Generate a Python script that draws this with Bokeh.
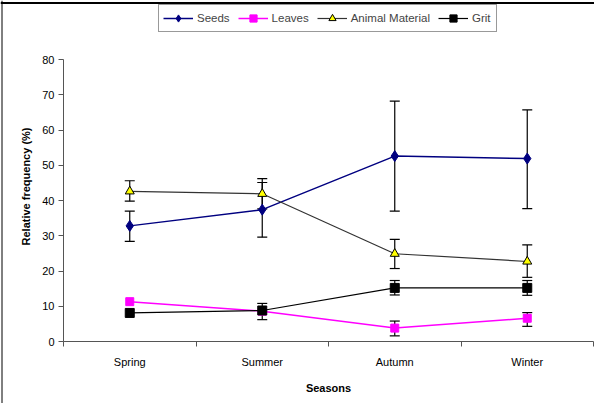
from bokeh.plotting import figure
from bokeh.models import (ColumnDataSource, Whisker, TeeHead, Legend, LegendItem,
                          FixedTicker, Range1d, Span, LinearAxis)
from bokeh.embed import file_html
from bokeh.resources import INLINE

seasons = ["Spring", "Summer", "Autumn", "Winter"]

seeds = [32.8, 37.4, 52.6, 51.9]
seeds_lo = [28.4, 29.6, 37.0, 37.7]
seeds_hi = [37.0, 45.1, 68.2, 65.7]

leaves = [11.3, 8.6, 3.8, 6.6]
leaves_err_idx = [2, 3]
leaves_lo = [1.6, 4.3]
leaves_hi = [5.8, 8.2]

animal = [42.6, 41.9, 24.9, 22.7]
animal_lo = [39.8, 37.6, 20.7, 18.2]
animal_hi = [45.6, 46.2, 29.0, 27.4]

grit = [8.1, 8.8, 15.2, 15.2]
grit_err_idx = [1, 2, 3]
grit_lo = [6.2, 13.2, 13.1]
grit_hi = [10.8, 17.3, 17.3]

y_ticks = list(range(0, 81, 10))
y_max = 80

FONT = "Liberation Sans"

# ---- layout in canvas pixels ----
W, H = 594, 403
AX_LEFT, AX_RIGHT = 63, 593      # x = 0 and x = n_seasons
AX_TOP, AX_BOTTOM = 59, 341      # y = 80 and y = 0
YLABEL_CY = 186                  # vertical centre of the y-axis title
n = len(seasons)
ppx = (AX_RIGHT - AX_LEFT) / n
ppy = (AX_BOTTOM - AX_TOP) / y_max
x_start = -AX_LEFT / ppx
x_end = n + (W - AX_RIGHT) / ppx
y_start = -(H - AX_BOTTOM) / ppy
y_end = y_max + AX_TOP / ppy
ylabel_c = (AX_BOTTOM - YLABEL_CY) / ppy

xc = [i + 0.5 for i in range(n)]

p = figure(width=W, height=H, output_backend="svg", toolbar_location=None,
           x_range=Range1d(x_start, x_end), y_range=Range1d(y_start, y_end),
           min_border=0)
p.outline_line_color = None
p.xgrid.visible = False
p.ygrid.visible = False
p.background_fill_color = "white"
p.border_fill_color = "white"

# outer chart border (top and left edges, as in the reference)
p.add_layout(Span(location=y_end - 2.5 / ppy, dimension="width",
                  line_color="#000000", line_width=2))
p.add_layout(Span(location=x_start + 1.5 / ppx, dimension="height",
                  line_color="#000000", line_width=1))

# axes
p.xaxis.fixed_location = 0
p.xaxis.bounds = (0, n)
p.xaxis.ticker = FixedTicker(ticks=xc, minor_ticks=list(range(n + 1)))
p.xaxis.major_label_overrides = {x: s for x, s in zip(xc, seasons)}
p.xaxis.minor_tick_out = 5
p.xaxis.minor_tick_in = 0
p.xaxis.minor_tick_line_color = "#555555"
p.xaxis.major_label_standoff = 8
p.xaxis.axis_label = "Seasons"
p.xaxis.axis_label_standoff = 11

p.yaxis.fixed_location = 0
p.yaxis.bounds = (0, y_max)
p.yaxis.ticker = FixedTicker(ticks=y_ticks)
p.yaxis.minor_tick_line_color = None
p.yaxis.major_tick_out = 5
p.yaxis.major_tick_in = 0
p.yaxis.major_label_standoff = 4

for ax in (p.xaxis, p.yaxis):
    ax.axis_line_color = "#555555"
    ax.major_label_text_font = FONT
    ax.major_label_text_font_size = "11px"
    ax.major_label_text_color = "#000000"
    ax.axis_label_text_font = FONT
    ax.axis_label_text_font_size = "11px"
    ax.axis_label_text_font_style = "bold"
    ax.axis_label_text_color = "#000000"
p.xaxis.major_tick_line_color = None
p.yaxis.major_tick_line_color = "#555555"

# y-axis title, centred where the reference has it
ytitle = LinearAxis(fixed_location=0, bounds=(2 * ylabel_c - y_max, y_max),
                    ticker=FixedTicker(ticks=[]), axis_line_color=None,
                    major_tick_line_color=None, minor_tick_line_color=None,
                    major_tick_out=0, minor_tick_out=0,
                    axis_label="Relative frequency (%)", axis_label_standoff=32,
                    axis_label_text_font=FONT, axis_label_text_font_size="11px",
                    axis_label_text_font_style="bold", axis_label_text_color="#000000")
p.add_layout(ytitle, "left")

# series
items = []

l1 = p.line(xc, seeds, line_color="#000080", line_width=1.5)
m1 = p.scatter(xc, seeds, marker="diamond", size=11, fill_color="#000080", line_color="#000080")
items.append(LegendItem(label="Seeds", renderers=[l1, m1]))

l2 = p.line(xc, leaves, line_color="#FF00FF", line_width=1.5)
m2 = p.scatter(xc, leaves, marker="square", size=8, fill_color="#FF00FF", line_color="#FF00FF")
items.append(LegendItem(label="Leaves", renderers=[l2, m2]))

l3 = p.line(xc, animal, line_color="#333333", line_width=1.2)
m3 = p.scatter(xc, animal, marker="triangle", size=9, fill_color="#FFFF00", line_color="#000000")
items.append(LegendItem(label="Animal Material", renderers=[l3, m3]))

l4 = p.line(xc, grit, line_color="#000000", line_width=1.2)
m4 = p.scatter(xc, grit, marker="square", size=9, fill_color="#000000", line_color="#000000")
items.append(LegendItem(label="Grit", renderers=[l4, m4]))


def add_err(xs, lo, hi):
    src = ColumnDataSource(dict(x=xs, lo=lo, hi=hi))
    w = Whisker(source=src, base="x", lower="lo", upper="hi", dimension="height",
                line_color="#000000", line_width=1.2,
                upper_head=TeeHead(size=10, line_color="#000000", line_width=1.2),
                lower_head=TeeHead(size=10, line_color="#000000", line_width=1.2))
    p.add_layout(w)


add_err(xc, seeds_lo, seeds_hi)
add_err(xc, animal_lo, animal_hi)
add_err([xc[i] for i in leaves_err_idx], leaves_lo, leaves_hi)
add_err([xc[i] for i in grit_err_idx], grit_lo, grit_hi)

legend = Legend(items=items, orientation="horizontal", location=(158, H - 32),
                border_line_color="#333333", border_line_width=1,
                label_text_font=FONT, label_text_font_size="11.5px",
                glyph_width=30, glyph_height=18, label_standoff=4, spacing=8,
                padding=4, margin=0, background_fill_alpha=1)
p.add_layout(legend, "center")

open("out.html", "w").write(file_html(p, INLINE))
